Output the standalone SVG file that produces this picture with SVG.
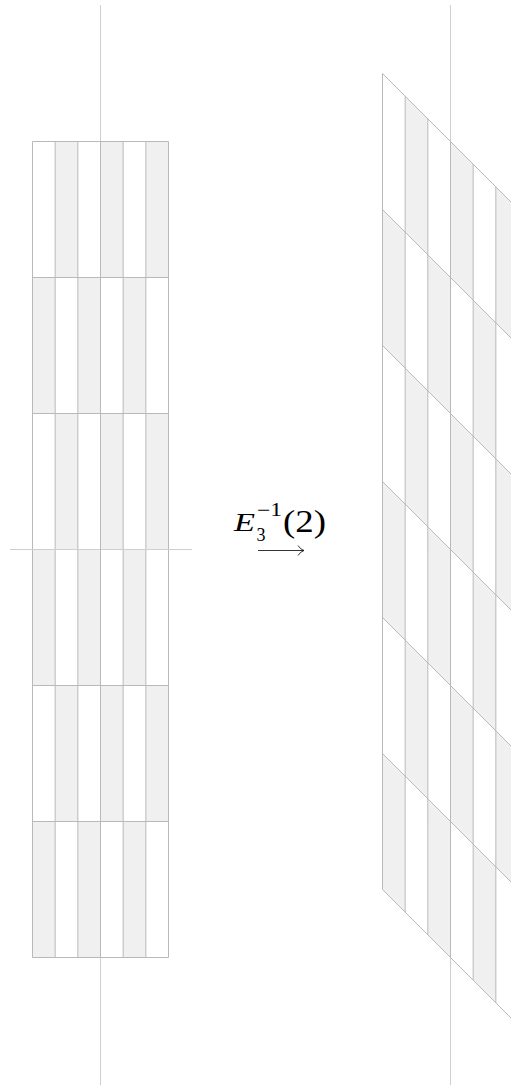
<svg xmlns="http://www.w3.org/2000/svg" xmlns:xlink="http://www.w3.org/1999/xlink" width="511" height="1090" viewBox="0 0 511 1090">
<style>
.bg{fill:#ffffff}
.sh{fill:#f0f0f0;stroke:none}
.gl{stroke:#b9b9b9;stroke-width:1;fill:none;vector-effect:non-scaling-stroke}
.ax{stroke:#cfcfcf;stroke-width:1;fill:none}
.lbl{fill:#000}
</style>
<defs>
<g id="grid">
<rect class="bg" x="0" y="0" width="136" height="816"/>
<g class="cells">
<rect class="sh" x="22.667" y="0" width="22.667" height="136"/>
<rect class="sh" x="68" y="0" width="22.667" height="136"/>
<rect class="sh" x="113.333" y="0" width="22.667" height="136"/>
<rect class="sh" x="0" y="136" width="22.667" height="136"/>
<rect class="sh" x="45.333" y="136" width="22.667" height="136"/>
<rect class="sh" x="90.667" y="136" width="22.667" height="136"/>
<rect class="sh" x="22.667" y="272" width="22.667" height="136"/>
<rect class="sh" x="68" y="272" width="22.667" height="136"/>
<rect class="sh" x="113.333" y="272" width="22.667" height="136"/>
<rect class="sh" x="0" y="408" width="22.667" height="136"/>
<rect class="sh" x="45.333" y="408" width="22.667" height="136"/>
<rect class="sh" x="90.667" y="408" width="22.667" height="136"/>
<rect class="sh" x="22.667" y="544" width="22.667" height="136"/>
<rect class="sh" x="68" y="544" width="22.667" height="136"/>
<rect class="sh" x="113.333" y="544" width="22.667" height="136"/>
<rect class="sh" x="0" y="680" width="22.667" height="136"/>
<rect class="sh" x="45.333" y="680" width="22.667" height="136"/>
<rect class="sh" x="90.667" y="680" width="22.667" height="136"/>
</g>
<path class="gl" d="M0,0V816M22.667,0V816M45.333,0V816M68,0V816M90.667,0V816M113.333,0V816M136,0V816M0,0H136M0,136H136M0,272H136M0,408H136M0,544H136M0,680H136M0,816H136"/>
</g>
</defs>
<rect x="0" y="0" width="511" height="1090" fill="#ffffff"/>
<g id="left-grid">
<line class="ax" x1="100.5" y1="5" x2="100.5" y2="1085"/>
<use xlink:href="#grid" href="#grid" transform="translate(32.5,141.5)"/>
<line class="ax" x1="10" y1="549.5" x2="192" y2="549.5"/>
<line class="ax" x1="100.5" y1="141.5" x2="100.5" y2="957.5" style="stroke:#b9b9b9"/>
</g>
<g id="right-grid">
<line class="ax" x1="450.5" y1="5" x2="450.5" y2="1085"/>
<use xlink:href="#grid" href="#grid" transform="matrix(1,1,0,1,382.5,73.5)"/>
</g>
<g id="label" font-family="'Liberation Serif','DejaVu Serif',serif">
<text class="lbl" x="234" y="531" font-style="italic" font-size="26" textLength="21" lengthAdjust="spacingAndGlyphs">E</text>
<text class="lbl" x="257" y="516" font-size="18" textLength="25" lengthAdjust="spacingAndGlyphs">−1</text>
<text class="lbl" x="256.5" y="541" font-size="18">3</text>
<text class="lbl" x="283" y="532" font-size="31" textLength="43" lengthAdjust="spacingAndGlyphs">(2)</text>
<path d="M258,550.5H303.5M298,545.5Q300.5,549.5 304,550.5Q300.5,551.5 298,555.5" fill="none" stroke="#000" stroke-width="0.8"/>
</g>
</svg>
